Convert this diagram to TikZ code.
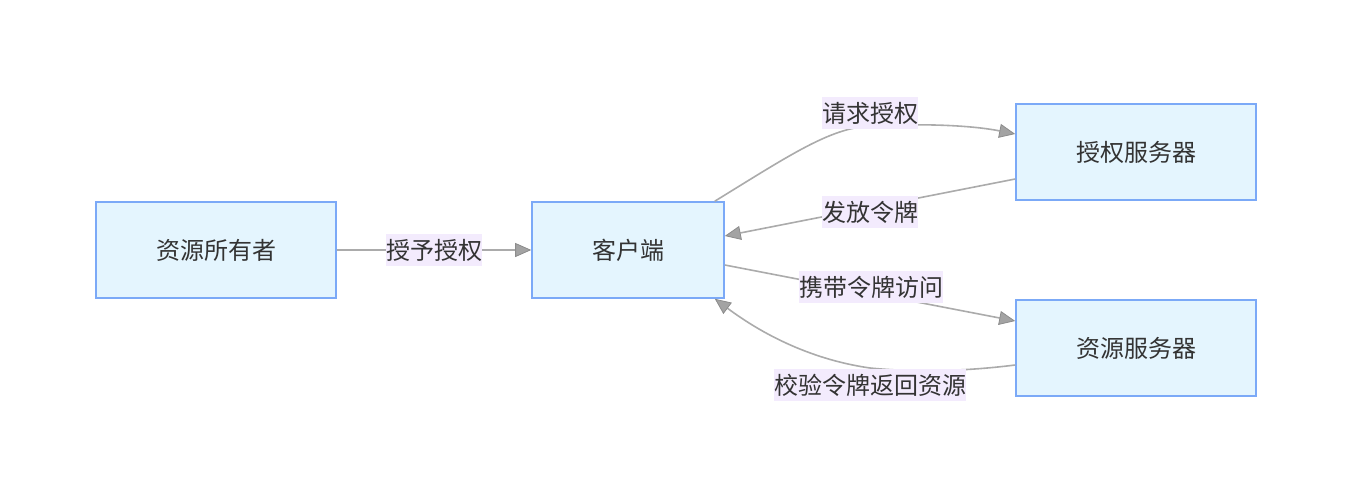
\documentclass[tikz,border=0pt]{standalone}
\usepackage{fontspec}
\newfontfamily\cjk{Noto Sans CJK SC}
\usetikzlibrary{arrows.meta,calc}
\definecolor{boxfill}{HTML}{E4F5FE}
\definecolor{boxline}{HTML}{7BA9F7}
\definecolor{edgecol}{HTML}{ABABAB}
\definecolor{tipfill}{HTML}{A3A3A3}
\definecolor{tipline}{HTML}{8C8C8C}
\definecolor{lblfill}{HTML}{F3EBFD}
\definecolor{txt}{HTML}{333333}
\tikzset{
  box/.style={draw=boxline, fill=boxfill, line width=1.6pt, minimum width=240pt, minimum height=96pt, inner sep=0pt, font=\cjk\fontsize{24}{27}\selectfont, text=txt},
  smallbox/.style={box, minimum width=192pt},
  lbl/.style={fill=lblfill, inner xsep=0pt, inner ysep=4.5pt, font=\cjk\fontsize{24}{27}\selectfont, text=txt},
  conn/.style={draw=edgecol, line width=1.6pt, -{Triangle[length=16pt,width=14pt,fill=tipfill,color=tipline,line width=0.8pt]}},
}
\begin{document}
\begin{tikzpicture}[x=1pt,y=-1pt]
\useasboundingbox (0,0) rectangle (1352,500);
\node[box] (owner) at (216,250) {资源所有者};
\node[smallbox] (client) at (628,250) {客户端};
\node[box] (auth) at (1136,152) {授权服务器};
\node[box] (res) at (1136,348) {资源服务器};

\coordinate (c1) at ($(client.north east)+(-10,0)$);
\coordinate (c2) at ($(client.south east)+(-10,0)$);

\draw[conn] (owner.east) -- (client.west);
\draw[conn] (c1) .. controls (790,155) and (830,128) .. (870,126) .. controls (930,123) and (975,126) .. ($(auth.west)+(0,-18)$);
\draw[conn] ($(auth.west)+(0,27)$) -- ($(client.east)+(0,-14)$);
\draw[conn] ($(client.east)+(0,15)$) -- ($(res.west)+(0,-27)$);
\draw[conn] ($(res.west)+(0,17)$) .. controls (960,372) and (910,372) .. (870,368) .. controls (800,358) and (750,325) .. (c2);

\node[lbl] (l1) at (434,250) {授予授权};
\node[lbl] (l2) at (870,113) {请求授权};
\node[lbl] (l3) at (870,212) {发放令牌};
\node[lbl] (l4) at (871,287) {携带令牌访问};
\node[lbl] (l5) at (870,385) {校验令牌返回资源};
\end{tikzpicture}
\end{document}
